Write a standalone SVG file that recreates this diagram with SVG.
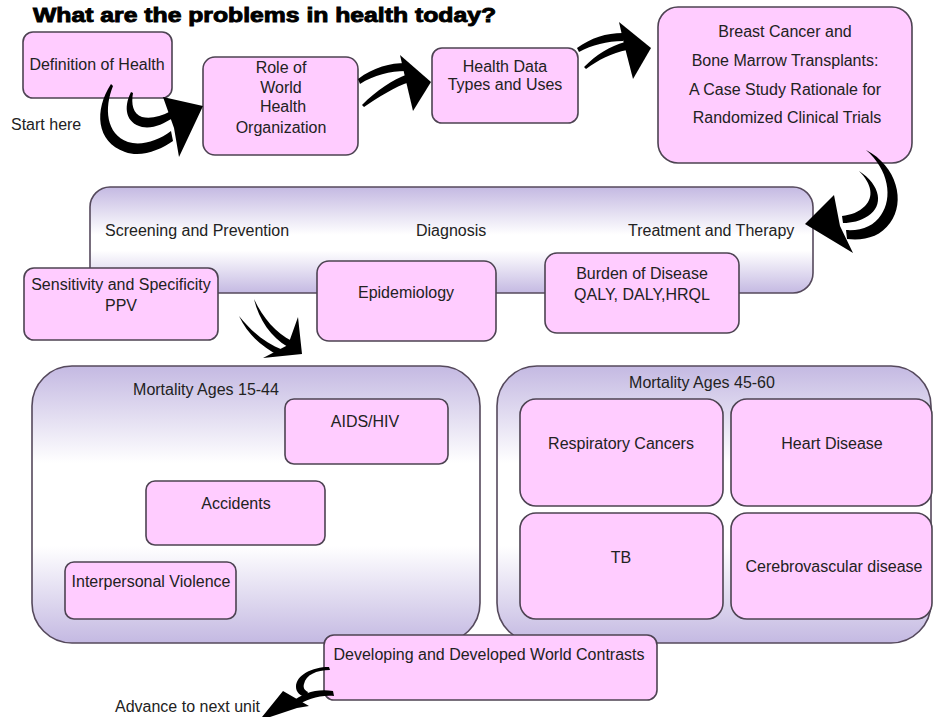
<svg xmlns="http://www.w3.org/2000/svg" width="934" height="717" viewBox="0 0 934 717">
  <defs>
    <linearGradient id="bandFill" x1="0" y1="0" x2="0" y2="1">
      <stop offset="0" stop-color="#c4b9e2"/>
      <stop offset="0.45" stop-color="#ffffff"/>
      <stop offset="0.6" stop-color="#ffffff"/>
      <stop offset="1" stop-color="#c4b9e2"/>
    </linearGradient>
    <linearGradient id="groupFill" x1="0" y1="0" x2="0" y2="1">
      <stop offset="0" stop-color="#c4b9e2"/>
      <stop offset="0.35" stop-color="#ffffff"/>
      <stop offset="0.65" stop-color="#ffffff"/>
      <stop offset="1" stop-color="#c4b9e2"/>
    </linearGradient>
    <style>
      .box { fill: #ffccff; stroke: #4d4352; stroke-width: 1.6; }
      .group { fill: url(#groupFill); stroke: #55495c; stroke-width: 1.6; }
      .band { fill: url(#bandFill); stroke: #55495c; stroke-width: 1.6; }
      .t { font-family: "Liberation Sans", Arial, sans-serif; font-size: 16px; fill: #222222; }
      .c { text-anchor: middle; }
      .title { font-family: "Liberation Sans", Arial, sans-serif; font-size: 20px; font-weight: bold; fill: #000000; stroke: #000000; stroke-width: 0.9; }
      .arrow { fill: #000000; }
    </style>
  </defs>

  <rect width="934" height="717" fill="#ffffff"/>

  <text class="title" x="33" y="22" textLength="463" lengthAdjust="spacingAndGlyphs">What are the problems in health today?</text>
  <text class="t" x="11" y="130">Start here</text>
  <text class="t" x="115" y="712">Advance to next unit</text>

  <!-- Care pathway band -->
  <g id="pathway">
    <rect class="band" x="90" y="187" width="723" height="106" rx="20"/>
    <text class="t" x="105" y="236">Screening and Prevention</text>
    <text class="t" x="416" y="236">Diagnosis</text>
    <text class="t" x="628" y="236">Treatment and Therapy</text>
  </g>

  <!-- Age group containers -->
  <g id="mortality-15-44">
    <rect class="group" x="32" y="366" width="448" height="277" rx="40"/>
    <text class="t c" x="206" y="395">Mortality Ages 15-44</text>
  </g>
  <g id="mortality-45-60">
    <rect class="group" x="497" y="366" width="434" height="277" rx="40"/>
    <text class="t c" x="702" y="388">Mortality Ages 45-60</text>
  </g>

  <g id="definition">
    <rect class="box" x="23" y="32" width="149" height="66" rx="10"/>
    <text class="t c" x="97" y="70">Definition of Health</text>
  </g>
  <g id="who">
    <rect class="box" x="203" y="57" width="155" height="98" rx="12"/>
    <text class="t c" x="281" y="73">Role of</text>
    <text class="t c" x="281" y="93">World</text>
    <text class="t c" x="283" y="112">Health</text>
    <text class="t c" x="281" y="133">Organization</text>
  </g>
  <g id="health-data">
    <rect class="box" x="432" y="48" width="146" height="75" rx="10"/>
    <text class="t c" x="505" y="72">Health Data</text>
    <text class="t c" x="505" y="90">Types and Uses</text>
  </g>
  <g id="breast-cancer">
    <rect class="box" x="658" y="7" width="254" height="156" rx="20"/>
    <text class="t c" x="785" y="37">Breast Cancer and</text>
    <text class="t c" x="785" y="66">Bone Marrow Transplants:</text>
    <text class="t c" x="785" y="95">A Case Study Rationale for</text>
    <text class="t c" x="787" y="123">Randomized Clinical Trials</text>
  </g>
  <g id="sensitivity">
    <rect class="box" x="24" y="268" width="194" height="72" rx="10"/>
    <text class="t c" x="121" y="290">Sensitivity and Specificity</text>
    <text class="t c" x="121" y="311">PPV</text>
  </g>
  <g id="epidemiology">
    <rect class="box" x="317" y="261" width="179" height="80" rx="12"/>
    <text class="t c" x="406" y="298">Epidemiology</text>
  </g>
  <g id="burden">
    <rect class="box" x="545" y="253" width="194" height="80" rx="12"/>
    <text class="t c" x="642" y="279">Burden of Disease</text>
    <text class="t c" x="642" y="300">QALY, DALY,HRQL</text>
  </g>
  <g id="aids">
    <rect class="box" x="285" y="399" width="163" height="65" rx="9"/>
    <text class="t c" x="365" y="427">AIDS/HIV</text>
  </g>
  <g id="accidents">
    <rect class="box" x="146" y="481" width="179" height="64" rx="9"/>
    <text class="t c" x="236" y="509">Accidents</text>
  </g>
  <g id="violence">
    <rect class="box" x="65" y="562" width="171" height="57" rx="9"/>
    <text class="t c" x="151" y="587">Interpersonal Violence</text>
  </g>
  <g id="respiratory">
    <rect class="box" x="520" y="399" width="203" height="107" rx="16"/>
    <text class="t c" x="621" y="449">Respiratory Cancers</text>
  </g>
  <g id="heart">
    <rect class="box" x="731" y="399" width="201" height="107" rx="16"/>
    <text class="t c" x="832" y="449">Heart Disease</text>
  </g>
  <g id="tb">
    <rect class="box" x="520" y="513" width="203" height="106" rx="16"/>
    <text class="t c" x="621" y="563">TB</text>
  </g>
  <g id="cerebrovascular">
    <rect class="box" x="731" y="513" width="201" height="106" rx="16"/>
    <text class="t c" x="834" y="572">Cerebrovascular disease</text>
  </g>
  <g id="world-contrasts">
    <rect class="box" x="324" y="635" width="333" height="65" rx="10"/>
    <text class="t c" x="489" y="660">Developing and Developed World Contrasts</text>
  </g>

  <!-- Curved block arrows -->
  <g id="connectors" class="arrow">
    <!-- Definition of Health to WHO -->
    <g>
      <path d="M111,84 C 94,110 96,142 125,152 C 141,158 160,150 173,141 L 171,131 C 158,141 141,146 128,142 C 106,134 104,108 113,86 Z"/>
      <path d="M131,92 C 123,108 126,123 142,127 C 153,129 163,124 173,118 L 171,111 C 160,117 150,119 142,117 C 133,114 131,104 133,93 Z"/>
      <path d="M163,97 L 203,106 L 179,157 L 174,128 Z"/>
    </g>
    <!-- WHO to Health Data -->
    <g>
      <path d="M358,79 C 374,67 390,63 406,63 L 406,71 C 390,71 374,75 360,84 Z"/>
      <path d="M362,105 C 377,90 392,80 408,74 L 410,82 C 394,87 379,97 364,107 Z"/>
      <path d="M400,55 L 431,82 L 413,111 L 405,77 Z"/>
    </g>
    <!-- Health Data to Breast Cancer -->
    <g>
      <path d="M577,48 C 591,38 606,33 623,33 L 623,41 C 607,41 592,45 579,52 Z"/>
      <path d="M584,67 C 596,55 610,46 625,42 L 627,50 C 612,53 598,60 586,69 Z"/>
      <path d="M619,22 L 651,48 L 633,79 L 624,44 Z"/>
    </g>
    <!-- Breast Cancer to Treatment and Therapy -->
    <g>
      <path d="M866,150 C 897,166 906,202 890,223 C 880,237 864,241 847,239 L 846,230 C 862,231 874,226 881,215 C 893,198 889,170 866,150 Z"/>
      <path d="M859,171 C 881,185 884,206 868,216 C 860,221 852,223 843,223 L 842,216 C 851,215 859,212 865,206 C 874,197 872,184 859,171 Z"/>
      <path d="M834,195 L 805,224 L 853,253 L 840,226 Z"/>
    </g>
    <!-- Sensitivity toward the mortality groups -->
    <g>
      <path d="M254,299 C 263,318 276,333 292,341 L 288,347 C 271,337 259,320 254,299 Z"/>
      <path d="M239,316 C 251,331 265,343 283,350 L 280,356 C 262,347 248,335 239,316 Z"/>
      <path d="M298,317 L 302,354 L 263,358 L 288,345 Z"/>
    </g>
    <!-- World contrasts to next unit -->
    <g>
      <path d="M329,667 C 312,667 296,675 296,687 C 296,692 300,696 306,697 L 308,692 C 304,690 303,687 304,684 C 306,675 316,670 330,670 Z"/>
      <path d="M333,691 C 318,688 302,693 292,702 L 296,707 C 306,699 319,695 334,696 Z"/>
      <path d="M283,691 L 309,706 L 297,708 L 270,717 L 262,717 Z"/>
    </g>
  </g>
</svg>
